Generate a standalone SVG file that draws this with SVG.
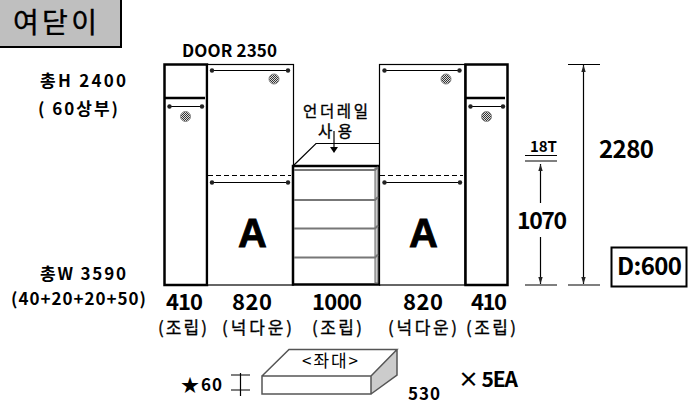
<svg xmlns="http://www.w3.org/2000/svg" width="697" height="412" viewBox="0 0 697 412">
<style>
text{font-family:"Noto Sans CJK KR","Noto Sans",sans-serif;fill:#000;text-anchor:start;font-weight:700}
.s{font-size:17px}
.k{font-size:17px;font-weight:400;stroke:#000;stroke-width:.35}
.u{font-size:15.500px;font-weight:400;stroke:#000;stroke-width:.35}
.m{font-size:22px}
.a{font-size:40px;font-weight:700;font-family:"Liberation Sans",sans-serif;stroke:#000;stroke-width:.8}
.p{fill:#fff;stroke:#000;stroke-width:2.500}
.t{fill:#fff;stroke:#000;stroke-width:1.200}
.l{stroke:#000;stroke-width:1.200;fill:none}
.d{stroke:#000;stroke-width:1.200;stroke-dasharray:5 3;fill:none}
.g{stroke:#777;stroke-width:2;fill:none}
.h{fill:url(#hatch);stroke:#888}
.r{stroke:#000;stroke-width:1.200;fill:none;marker-start:url(#dot);marker-end:url(#dot)}
</style>
<defs>
<marker id="dot" markerUnits="userSpaceOnUse" markerWidth="6" markerHeight="6" refX="3" refY="3"><circle cx="3" cy="3" r="2.200" fill="#222"/></marker>
<marker id="ah" markerUnits="userSpaceOnUse" markerWidth="8" markerHeight="8" refX="7" refY="3" orient="auto-start-reverse"><path d="M0 0.800L7 3L0 5.200z" fill="#222"/></marker>
<pattern id="hatch" width="2" height="2" patternUnits="userSpaceOnUse"><rect width="2" height="2" fill="#ddd"/><rect width="1" height="1" fill="#333"/><rect x="1" y="1" width="1" height="1" fill="#333"/></pattern>
</defs>
<g id="title"><rect x="-2" y="-2" width="123" height="49" fill="#bfbfbf" stroke="#000" stroke-width="2"/><text x="13" y="33" textLength="84" lengthAdjust="spacing" style="font-size:28px;font-weight:400;stroke:#000;stroke-width:.4">여닫이</text></g>
<g id="labels-left"><text x="40" y="87" class="s" textLength="86" lengthAdjust="spacing">총H 2400</text><text x="38" y="115" class="s" textLength="80" lengthAdjust="spacing">( 60상부)</text><text x="40" y="280" class="s" textLength="86" lengthAdjust="spacing">총W 3590</text><text x="11" y="305" class="s" textLength="135" lengthAdjust="spacing">(40+20+20+50)</text></g>
<text x="182" y="57" class="s" textLength="95" lengthAdjust="spacing">DOOR 2350</text>
<g id="panel-left-narrow"><rect x="164.500" y="64.500" width="42.500" height="220.500" class="p"/><path d="M164 98H205" stroke="#000" stroke-width="2.500"/><path d="M169.500 106.500H202" class="r"/><circle cx="185.500" cy="116.500" r="5" class="h"/></g>
<g id="door-left"><rect x="207.500" y="64.500" width="86" height="220.500" class="t"/><path d="M212 70.500H288" class="r"/><path d="M212 182.500H288" class="r"/><path d="M208 175.500H291" class="d"/><circle cx="274" cy="79" r="5" class="h"/><text x="238" y="247" class="a">A</text></g>
<g id="underrail"><path d="M293 166L316 143.500H379" class="l"/><text x="303" y="117" class="u" textLength="65" lengthAdjust="spacing">언더레일</text><text x="318" y="137" class="u" textLength="34" lengthAdjust="spacing">사용</text><path d="M334 131V148" class="l"/><path d="M330 147H338L334 153z" fill="#000"/></g>
<g id="drawers"><rect x="293" y="166" width="86" height="118.500" fill="#fff" stroke="#000" stroke-width="2.500"/><rect x="375" y="168" width="3" height="115" fill="#ccc" stroke="#666" stroke-width="1"/><path d="M294 170H375L378 167M294 200H375L378 197M294 228.500H375L378 225.500M294 257.500H375L378 254.500" class="g"/></g>
<g id="door-right"><rect x="379.500" y="64.500" width="85.500" height="220.500" class="t"/><path d="M384.500 70.500H459.500" class="r"/><path d="M384.500 182.500H460" class="r"/><path d="M380 175.500H463" class="d"/><circle cx="446" cy="79" r="5" class="h"/><text x="409" y="247" class="a">A</text></g>
<g id="panel-right-narrow"><rect x="465.500" y="64.500" width="42" height="220.500" class="p"/><path d="M466 98H505" stroke="#000" stroke-width="2.500"/><path d="M470.500 106.500H503" class="r"/><circle cx="486.500" cy="116.500" r="5" class="h"/></g>
<g id="bottom-labels"><text x="166" y="310" class="m" textLength="37" lengthAdjust="spacing">410</text><text x="232" y="310" class="m" textLength="40" lengthAdjust="spacing">820</text><text x="312" y="310" class="m" textLength="50" lengthAdjust="spacing">1000</text><text x="403" y="310" class="m" textLength="40" lengthAdjust="spacing">820</text><text x="471" y="310" class="m" textLength="36" lengthAdjust="spacing">410</text>
<text x="158" y="334" class="k" textLength="49" lengthAdjust="spacing">(조립)</text><text x="222" y="334" class="k" textLength="70" lengthAdjust="spacing">(넉다운)</text><text x="312" y="334" class="k" textLength="50" lengthAdjust="spacing">(조립)</text><text x="388" y="334" class="k" textLength="69" lengthAdjust="spacing">(넉다운)</text><text x="466" y="334" class="k" textLength="50" lengthAdjust="spacing">(조립)</text></g>
<g id="dimensions"><path d="M525 155.500H557M525 161H557M525 285H557M568 64.500H600M568 285H600" class="l"/><path d="M540.500 203V164" class="l" marker-end="url(#ah)"/><path d="M540.500 237V284" class="l" marker-end="url(#ah)"/><path d="M583.500 65V284" class="l" marker-start="url(#ah)" marker-end="url(#ah)"/><text x="530" y="152" style="font-size:15px" textLength="27" lengthAdjust="spacing">18T</text><text x="517" y="229" style="font-size:23px" textLength="50" lengthAdjust="spacing">1070</text><text x="599" y="158" style="font-size:24px" textLength="55" lengthAdjust="spacing">2280</text></g>
<g id="depth"><rect x="611.500" y="247.500" width="75" height="39" fill="#fff" stroke="#000" stroke-width="2"/><text x="617" y="275" style="font-size:24px" textLength="65" lengthAdjust="spacing">D:600</text></g>
<g id="base"><path d="M262 376L289 349.500H397V375L371 394H262z" fill="#fff"/><path d="M371 376L397 350V375L371 394z" fill="#ccc"/><path d="M262 376H371V394H262zM262 376L289 349.500H397L371 376M397 350V375L371 394" fill="none" stroke="#555" stroke-width="1.500"/><text x="302" y="367" style="font-size:17px;font-weight:400" textLength="56" lengthAdjust="spacing">&lt;좌대&gt;</text><path d="M231 375H250M231 390H250M240.500 373V396" class="l"/><text x="181" y="392" style="font-size:18px">★</text><text x="201" y="391" style="font-size:17px" textLength="21" lengthAdjust="spacing">60</text><text x="408" y="400" style="font-size:17px" textLength="32" lengthAdjust="spacing">530</text><text x="458" y="387" style="font-size:21px" textLength="60" lengthAdjust="spacing">× 5EA</text></g>
</svg>
